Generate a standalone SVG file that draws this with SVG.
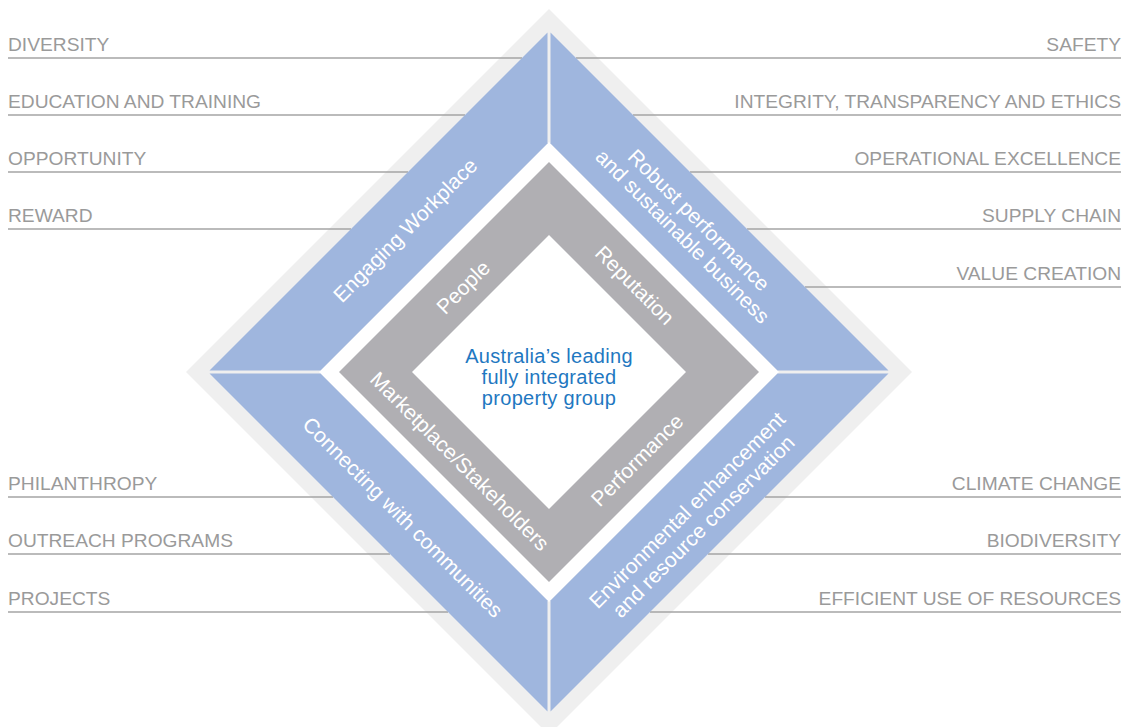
<svg xmlns="http://www.w3.org/2000/svg" width="1125" height="727" viewBox="0 0 1125 727">
  <style>
    .label { font-family: "Liberation Sans", Arial, sans-serif; font-size: 19.2px; fill: #9a9a9a; }
    .label.r { text-anchor: end; }
    .rule { stroke: #a4a4a4; stroke-width: 1.5; fill: none; }
    .band { fill: #9fb6de; }
    .ring { fill: #b0afb3; }
    .inner { font-family: "Liberation Sans", Arial, sans-serif; font-size: 21px; fill: #ffffff; text-anchor: middle; }
    .core { font-family: "Liberation Sans", Arial, sans-serif; font-size: 20px; letter-spacing: 0.3px; fill: #1f78c1; text-anchor: middle; }
  </style>

  <rect width="1125" height="727" fill="#ffffff"/>

  <!-- soft outer border of the diamond -->
  <g id="halo">
    <polygon points="549,9 912,372 549,735 186,372" fill="#efefef"/>
  </g>

  <!-- leader lines under each theme label -->
  <g id="connectors">
    <line class="rule" x1="8" y1="58" x2="522" y2="58"/>
    <line class="rule" x1="8" y1="115" x2="465" y2="115"/>
    <line class="rule" x1="8" y1="172" x2="408" y2="172"/>
    <line class="rule" x1="8" y1="229" x2="351" y2="229"/>
    <line class="rule" x1="8" y1="497" x2="333" y2="497"/>
    <line class="rule" x1="8" y1="554" x2="390" y2="554"/>
    <line class="rule" x1="8" y1="612" x2="448" y2="612"/>

    <line class="rule" x1="576" y1="58" x2="1121" y2="58"/>
    <line class="rule" x1="633" y1="115" x2="1121" y2="115"/>
    <line class="rule" x1="690" y1="172" x2="1121" y2="172"/>
    <line class="rule" x1="747" y1="229" x2="1121" y2="229"/>
    <line class="rule" x1="805" y1="287" x2="1121" y2="287"/>
    <line class="rule" x1="765" y1="497" x2="1121" y2="497"/>
    <line class="rule" x1="708" y1="554" x2="1121" y2="554"/>
    <line class="rule" x1="650" y1="612" x2="1121" y2="612"/>
  </g>

  <!-- theme labels, left side -->
  <g id="labels-left">
    <text class="label" x="8" y="51">DIVERSITY</text>
    <text class="label" x="8" y="108">EDUCATION AND TRAINING</text>
    <text class="label" x="8" y="165">OPPORTUNITY</text>
    <text class="label" x="8" y="222">REWARD</text>
    <text class="label" x="8" y="490">PHILANTHROPY</text>
    <text class="label" x="8" y="547">OUTREACH PROGRAMS</text>
    <text class="label" x="8" y="605">PROJECTS</text>
  </g>

  <!-- theme labels, right side -->
  <g id="labels-right">
    <text class="label r" x="1121" y="51">SAFETY</text>
    <text class="label r" x="1121" y="108">INTEGRITY, TRANSPARENCY AND ETHICS</text>
    <text class="label r" x="1121" y="165">OPERATIONAL EXCELLENCE</text>
    <text class="label r" x="1121" y="222">SUPPLY CHAIN</text>
    <text class="label r" x="1121" y="280">VALUE CREATION</text>
    <text class="label r" x="1121" y="490">CLIMATE CHANGE</text>
    <text class="label r" x="1121" y="547">BIODIVERSITY</text>
    <text class="label r" x="1121" y="605">EFFICIENT USE OF RESOURCES</text>
  </g>

  <!-- white field inside the blue band -->
  <polygon points="549,142 779,372 549,602 319,372" fill="#ffffff"/>

  <!-- outer blue quadrants -->
  <g id="engaging-workplace">
    <polygon class="band" points="209.5,370.5 547.5,32.5 547.5,143.5 320.5,370.5"/>
    <text class="inner" transform="translate(405,230) rotate(-45)" y="7.5">Engaging Workplace</text>
  </g>

  <g id="robust-performance">
    <polygon class="band" points="550.5,32.5 888.5,370.5 777.5,370.5 550.5,143.5"/>
    <g transform="translate(691,228) rotate(45)">
      <text class="inner" y="-4">Robust performance</text>
      <text class="inner" y="19">and sustainable business</text>
    </g>
  </g>

  <g id="environmental-enhancement">
    <polygon class="band" points="888.5,373.5 550.5,711.5 550.5,600.5 777.5,373.5"/>
    <g transform="translate(695,518) rotate(-45)">
      <text class="inner" y="-4">Environmental enhancement</text>
      <text class="inner" y="19">and resource conservation</text>
    </g>
  </g>

  <g id="connecting-communities">
    <polygon class="band" points="547.5,711.5 209.5,373.5 320.5,373.5 547.5,600.5"/>
    <text class="inner" transform="translate(403,517) rotate(45)" y="7.5">Connecting with communities</text>
  </g>

  <!-- grey ring with its four values -->
  <g id="values-ring">
    <path class="ring" fill-rule="evenodd" d="M549,162 L759,372 L549,582 L339,372 Z M549,235 L412,372 L549,509 L686,372 Z"/>
  </g>
  <g id="people">
    <text class="inner" transform="translate(463,287) rotate(-45)" y="7.5">People</text>
  </g>
  <g id="reputation">
    <text class="inner" transform="translate(635,285) rotate(45)" y="7.5">Reputation</text>
  </g>
  <g id="marketplace">
    <text class="inner" transform="translate(460,461) rotate(45)" y="7.5">Marketplace/Stakeholders</text>
  </g>
  <g id="performance">
    <text class="inner" transform="translate(637,460) rotate(-45)" y="7.5">Performance</text>
  </g>

  <!-- centre statement -->
  <g id="core">
    <text class="core" x="549" y="363">Australia’s leading</text>
    <text class="core" x="549" y="384">fully integrated</text>
    <text class="core" x="549" y="405">property group</text>
  </g>
</svg>
